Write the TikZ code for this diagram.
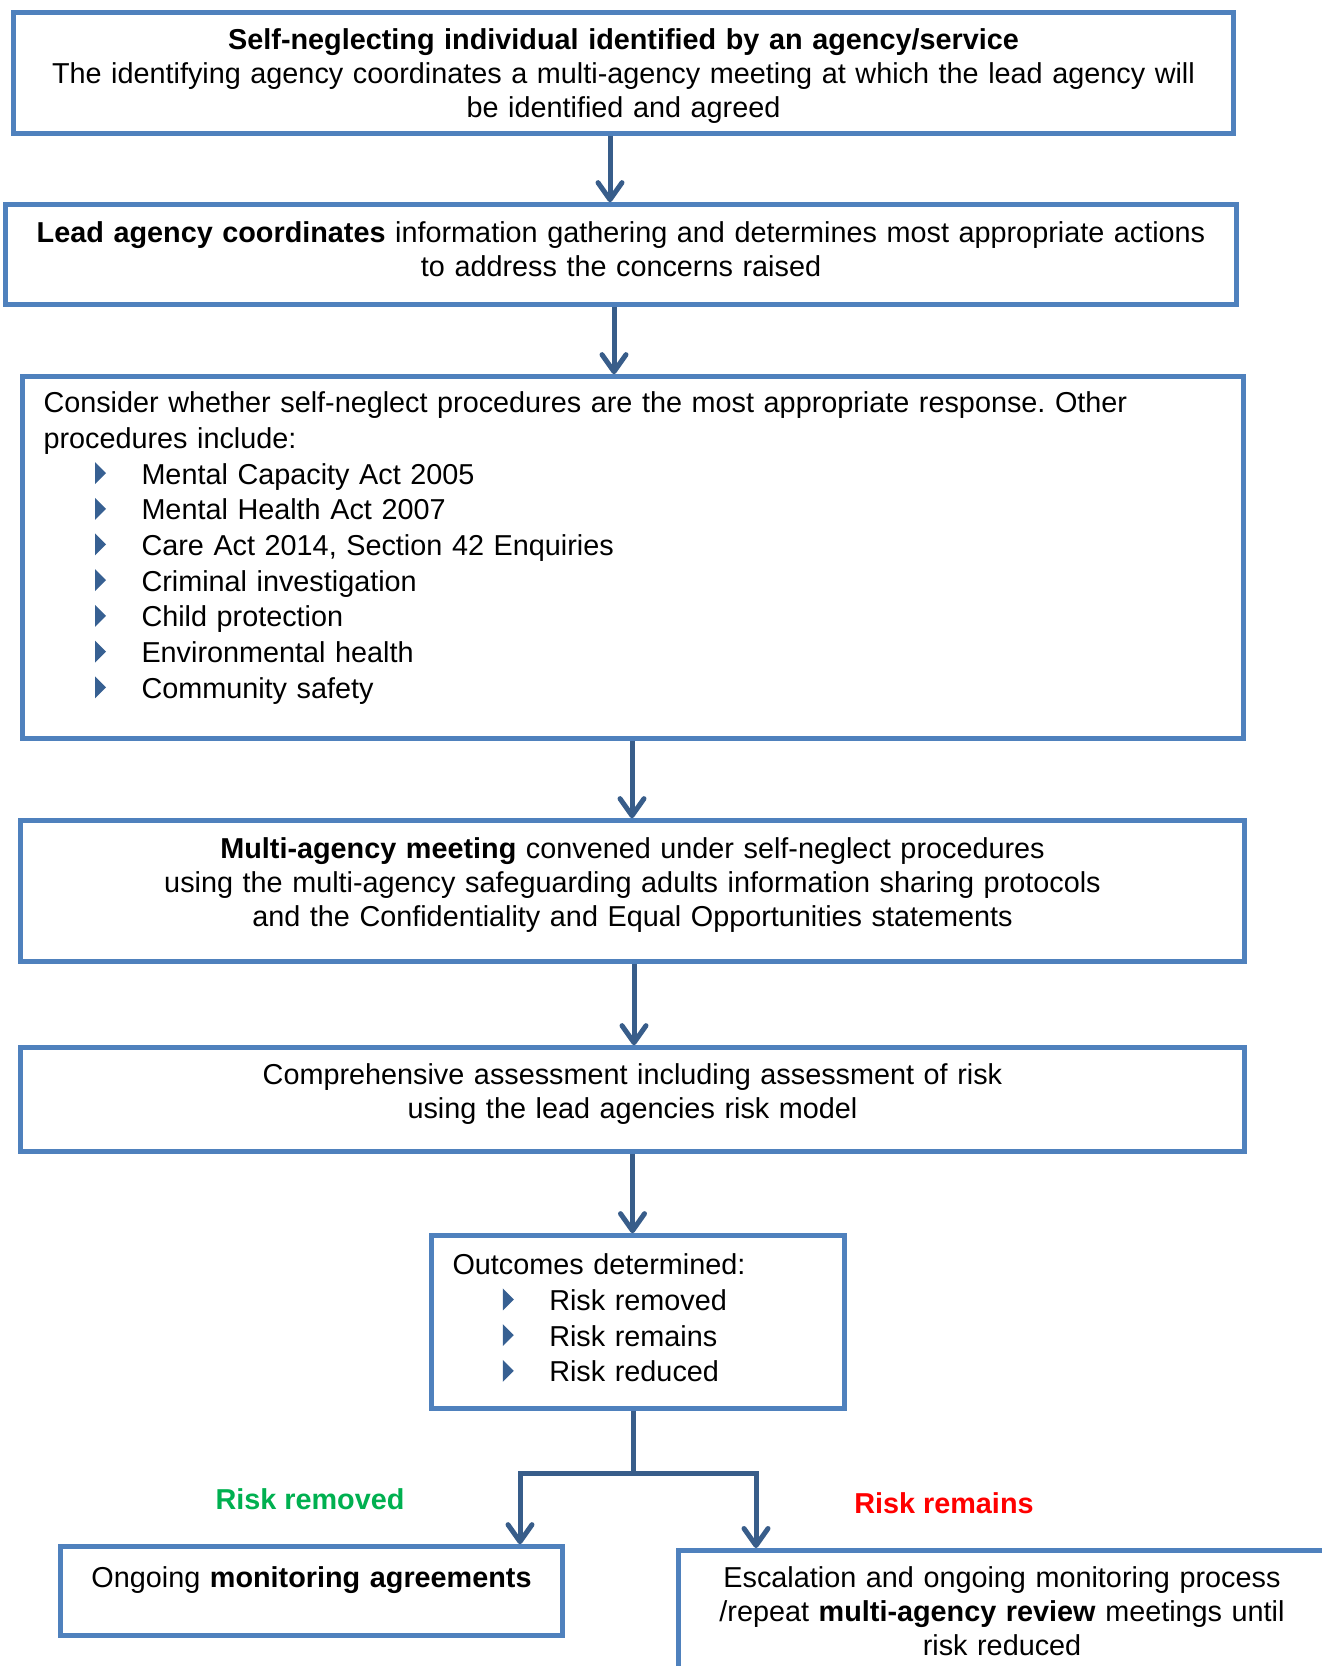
\documentclass[tikz,border=0pt]{standalone}
\usepackage{fontspec}
\setmainfont{Liberation Sans}
\usepackage{tikz}
\usetikzlibrary{calc, positioning, arrows.meta}
\definecolor{boxblue}{HTML}{4F81BD}
\definecolor{arrblue}{HTML}{385D8A}
\definecolor{bulblue}{HTML}{376092}
\definecolor{riskgreen}{HTML}{00B050}
\definecolor{riskred}{HTML}{FF0000}
\frenchspacing
\newcommand{\boxfont}{\fontsize{28.8}{34}\selectfont}
\newcommand{\listfont}{\fontsize{28.8}{35.7}\selectfont}
\newcommand{\bul}{\tikz[baseline=0pt]\fill[bulblue] (0pt,0pt) -- (11pt,11pt) -- (0pt,22pt) -- cycle;}
\newcommand{\bulline}[2]{\hspace*{#1}\bul\hspace*{35.5pt}#2}
\newcommand{\lift}[1]{\par\kern#1}
\tikzstyle{box}=[draw=boxblue, line width=4.7pt, shape=rectangle, inner xsep=10pt, inner ysep=6pt, align=center, font=\boxfont]
\tikzstyle{listbox}=[box, align=left, inner xsep=21pt, font=\listfont]
\tikzstyle{arr}=[draw=arrblue, line width=5pt, -{Straight Barb[length=17pt, width=24pt, round]}]
\tikzstyle{conn}=[draw=arrblue, line width=5pt]
\tikzstyle{lbl}=[inner sep=0pt, font=\boxfont\bfseries]

\begin{document}
\begin{tikzpicture}[x=1pt, y=-1pt]
\useasboundingbox (0,0) rectangle (1322,1666);
\clip (0,0) rectangle (1322,1666);

\node[box, minimum width=1220pt, minimum height=121pt, text width=1200pt] (ident) at (623.5,73) {\textbf{Self-neglecting individual identified by an agency/service}\\The identifying agency coordinates a multi-agency meeting at which the lead agency will\\be identified and agreed\lift{-6pt}};
\node[box, minimum width=1231pt, minimum height=100pt, text width=1211pt] (lead) at (621,254.5) {\textbf{Lead agency coordinates} information gathering and determines most appropriate actions\\to address the concerns raised\lift{10pt}};
\node[listbox, minimum width=1221pt, minimum height=362pt, text width=1179pt] (consider) at (633,557.5) {Consider whether self-neglect procedures are the most appropriate response. Other\\procedures include:\\
\bulline{51.5pt}{Mental Capacity Act 2005}\\
\bulline{51.5pt}{Mental Health Act 2007}\\
\bulline{51.5pt}{Care Act 2014, Section 42 Enquiries}\\
\bulline{51.5pt}{Criminal investigation}\\
\bulline{51.5pt}{Child protection}\\
\bulline{51.5pt}{Environmental health}\\
\bulline{51.5pt}{Community safety}\lift{19pt}};
\node[box, minimum width=1224pt, minimum height=141pt, text width=1204pt] (meeting) at (632.5,891) {\textbf{Multi-agency meeting} convened under self-neglect procedures\\using the multi-agency safeguarding adults information sharing protocols\\and the Confidentiality and Equal Opportunities statements\lift{12pt}};
\node[box, minimum width=1224pt, minimum height=104pt, text width=1204pt] (assess) at (632.5,1099.5) {Comprehensive assessment including assessment of risk\\using the lead agencies risk model\lift{11pt}};
\node[listbox, minimum width=413pt, minimum height=173pt, text width=371pt] (outcome) at (638,1322) {Outcomes determined:\\
\bulline{50.3pt}{Risk removed}\\
\bulline{50.3pt}{Risk remains}\\
\bulline{50.3pt}{Risk reduced}\lift{8pt}};
\node[box, minimum width=502pt, minimum height=89pt, text width=482pt] (monitor) at (311.5,1591) {Ongoing \textbf{monitoring agreements}\lift{22pt}};
\node[box, anchor=north, inner ysep=16pt, minimum width=647pt, text width=627pt] (escal) at (1002,1548) {Escalation and ongoing monitoring process\\/repeat \textbf{multi-agency review} meetings until\\risk reduced\lift{150pt}};

\node[lbl, text=riskgreen] (removed) at (310,1499) {Risk removed};
\node[lbl, text=riskred] (remains) at (944,1503) {Risk remains};

\draw[arr] ([xshift=-13.5pt]ident.south) -- ([xshift=-13.5pt]ident.south |- lead.north);
\draw[arr] ([xshift=-7pt]lead.south) -- ([xshift=-7pt]lead.south |- consider.north);
\draw[arr] ([xshift=-1pt]consider.south) -- ([xshift=-1pt]consider.south |- meeting.north);
\draw[arr] ([xshift=1.5pt]meeting.south) -- ([xshift=1.5pt]meeting.south |- assess.north);
\draw[arr] (assess.south) -- (assess.south |- outcome.north);

%\draw[conn] (outcome.south) -- ++(0,62);
\coordinate (splitl) at (520,1473);
\coordinate (splitr) at (756,1473);
\coordinate (split) at ([xshift=-5pt]outcome.south |- splitl);
\draw[conn] ([xshift=-5pt]outcome.south) -- (split);
\draw[arr] (split) -| (splitl |- monitor.north);
\draw[arr] (split) -| (splitr |- escal.north);
\end{tikzpicture}
\end{document}
